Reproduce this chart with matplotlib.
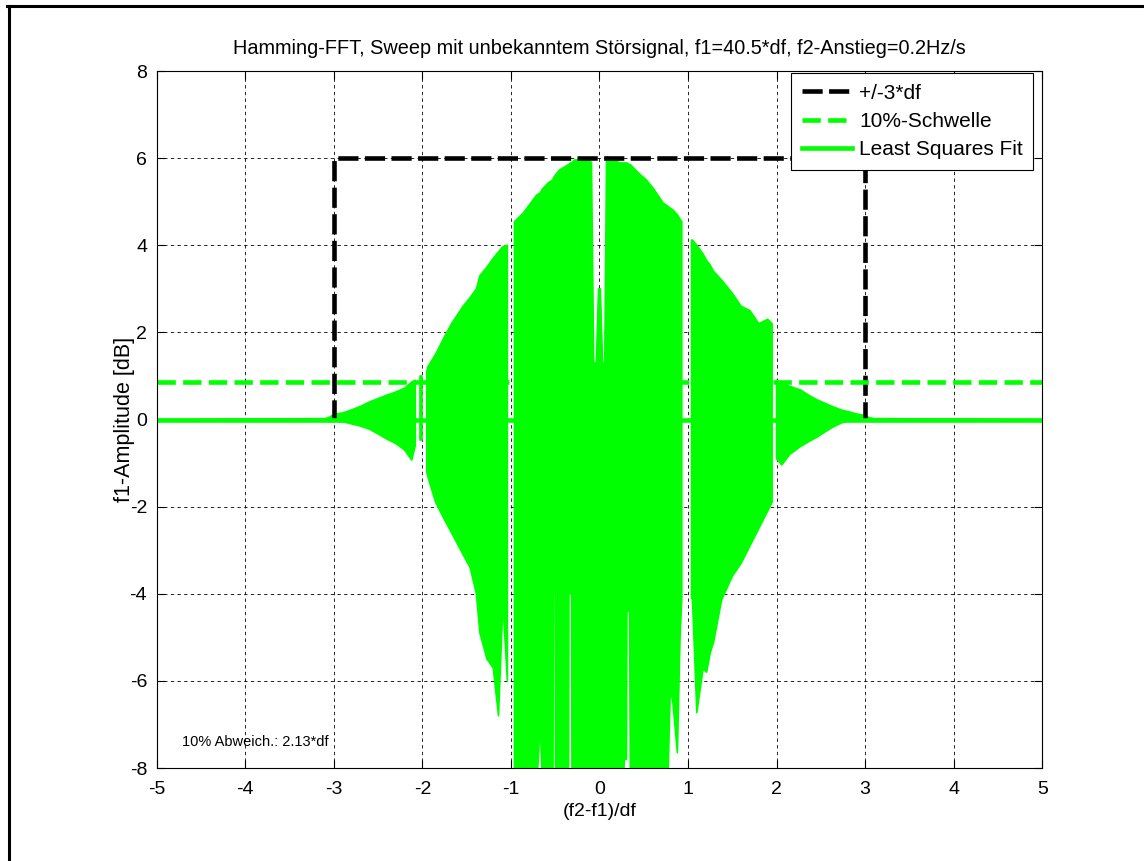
import numpy as np
import matplotlib
matplotlib.use('Agg')
import matplotlib.pyplot as plt
from matplotlib.lines import Line2D

plt.rcParams['font.family'] = ['Liberation Sans', 'DejaVu Sans']
plt.rcParams['axes.unicode_minus'] = False

# column-wise extent of the sweep signal, nan = gap
sig_x = [-5.0, -3.1, -3.05, -3.0, -2.9, -2.8, -2.7, -2.6, -2.5, -2.4, -2.3, -2.2, -2.12, -2.08,
         -2.06, -2.03, -2.0, -1.97,
         -1.95, -1.94, -1.85, -1.75, -1.67, -1.54, -1.46, -1.39, -1.35, -1.27, -1.2, -1.14, -1.09, -1.04,
         -1.0,
         -0.96, -0.86, -0.71, -0.67, -0.64, -0.58, -0.525, -0.52, -0.5, -0.495, -0.45, -0.35, -0.345,
         -0.315, -0.31, -0.28, -0.13, -0.09,
         -0.065, -0.035, -0.01, 0.01, 0.035, 0.06,
         0.08, 0.09, 0.23, 0.27, 0.28, 0.305, 0.31, 0.34, 0.35, 0.44, 0.53, 0.61, 0.72, 0.77, 0.80, 0.83,
         0.88, 0.91, 0.93,
         0.98,
         1.04, 1.05, 1.10, 1.17, 1.21, 1.25, 1.29, 1.38, 1.5, 1.6, 1.7, 1.8, 1.9, 1.95,
         1.97,
         2.0, 2.06, 2.15, 2.27, 2.37, 2.46, 2.55, 2.64, 2.73, 2.83, 2.9, 2.98, 3.05, 3.1, 5.0]
sig_hi = [0.0, 0.02, 0.05, 0.12, 0.15, 0.22, 0.3, 0.4, 0.48, 0.56, 0.63, 0.72, 0.86, 0.9,
          np.nan, 1.0, 1.0, np.nan,
          1.1, 1.2, 1.5, 1.9, 2.2, 2.6, 2.8, 3.0, 3.3, 3.5, 3.7, 3.85, 3.97, 4.0,
          np.nan,
          4.54, 4.74, 5.15, 5.2, 5.3, 5.43, 5.5, 5.55, 5.6, 5.62, 5.73, 5.85, 5.86,
          5.9, 5.9, 5.96, 5.96, 5.9,
          1.3, 1.3, 3.0, 3.0, 1.3, 1.3,
          6.0, 6.03, 5.89, 5.89, 5.89, 5.89, 5.89, 5.85, 5.85, 5.66, 5.5, 5.3, 4.97, 4.9, 4.85, 4.81,
          4.7, 4.6, 4.54,
          np.nan,
          4.12, 4.12, 4.0, 3.8, 3.65, 3.55, 3.4, 3.2, 2.9, 2.6, 2.5, 2.2, 2.3, 2.2,
          np.nan,
          0.9, 0.84, 0.76, 0.68, 0.55, 0.45, 0.37, 0.29, 0.22, 0.17, 0.13, 0.1, 0.04, 0.02, 0.0]
sig_lo = [0.0, -0.02, -0.05, -0.04, -0.05, -0.1, -0.15, -0.22, -0.33, -0.45, -0.55, -0.7, -0.93, -0.6,
          np.nan, -0.47, -0.47, np.nan,
          -1.2, -1.3, -1.9, -2.3, -2.6, -3.1, -3.4, -4.0, -4.9, -5.5, -5.7, -6.8, -4.2, -6.0,
          np.nan,
          -8.5, -8.5, -8.5, -7.0, -8.5, -8.5, -8.5, -4.0, -4.0, -8.5, -8.5, -8.5, -4.0,
          -4.0, -8.5, -8.5, -8.5, -8.5,
          -8.5, -8.5, -8.5, -8.5, -8.5, -8.5,
          -8.5, -8.5, -8.5, -8.5, -7.8, -7.8, -4.4, -4.4, -8.5, -8.5, -8.5, -8.5, -8.5, -8.5, -6.2, -6.5,
          -7.65, -5.0, -4.1,
          np.nan,
          -4.1, -4.1, -6.73, -5.72, -5.8, -5.37, -5.1, -4.14, -3.6, -3.3, -2.9, -2.5, -2.1, -1.9,
          np.nan,
          -0.9, -1.04, -0.8, -0.62, -0.5, -0.4, -0.28, -0.17, -0.08, -0.02, 0.0, 0.05, -0.03, -0.02, 0.0]

box_x = [-3, -3, 3, 3]
box_y = [0, 6, 6, 0]
thresh = 0.85
fit_level = 0.0
x_ticks = [-5, -4, -3, -2, -1, 0, 1, 2, 3, 4, 5]
y_ticks = [-8, -6, -4, -2, 0, 2, 4, 6, 8]

green = '#00ff00'

fig = plt.figure(figsize=(11.44, 8.61), dpi=100)
ax = fig.add_axes([0.137, 0.108, 0.774, 0.8095])

ax.fill_between(sig_x, sig_lo, sig_hi, color=green, lw=1.2, edgecolor=green, zorder=2)
ax.plot(box_x, box_y, color='black', lw=3.3, dashes=(4.4, 1.4), zorder=3, label='+/-3*df')
ax.axhline(thresh, color=green, lw=3.3, dashes=(4.0, 1.6), zorder=3, label='10%-Schwelle')
ax.axhline(fit_level, color=green, lw=3.3, zorder=3, label='Least Squares Fit')

ax.set_xlim(-5, 5)
ax.set_ylim(-8, 8)
ax.set_xticks(x_ticks)
ax.set_yticks(y_ticks)
ax.grid(True, color='black', lw=0.6, dashes=(4, 4))
ax.set_axisbelow(True)
ax.tick_params(direction='in', top=True, right=True, length=6, labelsize=14)
ax.tick_params(axis='x', pad=9)
ax.tick_params(axis='y', pad=7)
for s in ax.spines.values():
    s.set_linewidth(0.8)
    s.set_zorder(5)

ax.set_title('Hamming-FFT, Sweep mit unbekanntem Störsignal, f1=40.5*df, f2-Anstieg=0.2Hz/s',
             fontsize=14.3, pad=12)
ax.set_xlabel('(f2-f1)/df', fontsize=14, labelpad=4)
ax.set_ylabel('f1-Amplitude [dB]', fontsize=15.5, labelpad=-4)
ax.text(-4.72, -7.4, '10% Abweich.: 2.13*df', fontsize=10.5, va='center')

leg = ax.legend(loc='upper right', bbox_to_anchor=(0.9898, 0.997), borderaxespad=0,
                fontsize=15, fancybox=False, framealpha=1, edgecolor='black',
                handlelength=2.4, handletextpad=0.35, labelspacing=0.45, borderpad=0.5)
leg.get_frame().set_linewidth(0.8)

# outer frame (top and left edge)
fig.add_artist(Line2D([0.0065, 1.0], [0.9935, 0.9935], color='black', lw=2.2, transform=fig.transFigure))
fig.add_artist(Line2D([0.0075, 0.0075], [0.0, 0.9935], color='black', lw=2.2, transform=fig.transFigure))

fig.savefig('out.png', dpi=100)
